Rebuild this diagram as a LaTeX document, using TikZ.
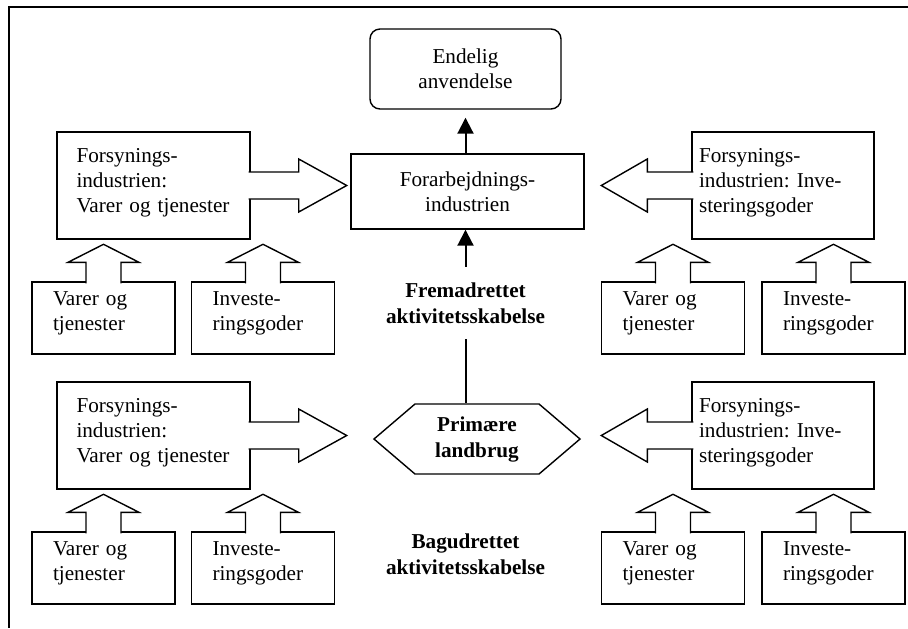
\documentclass[tikz,border=0pt]{standalone}
\usepackage{fontspec}
\setmainfont{Liberation Serif}
\usetikzlibrary{arrows.meta,shapes.symbols}

\begin{document}
\begin{tikzpicture}[x=0.5pt,y=-0.5pt,line width=0.7pt,
	font=\fontsize{10.6}{12.5}\selectfont\frenchspacing,
	bigbox/.style={draw,align=left,inner ysep=0pt,text height=15pt,text depth=38.5pt},
	smallbox/.style={draw,align=left,inner xsep=10.5pt,inner ysep=0pt,text width=50.5pt,text height=11.5pt,text depth=24.5pt},
	boldtext/.style={align=center,font=\fontsize{10.6}{13}\selectfont\bfseries},
	blk/.style={draw,fill=white,line join=miter},
	arr/.style={line width=1pt,-{Triangle[length=8pt,width=8pt]}}]
			\useasboundingbox (0,0) rectangle (908,628);
			\draw (908,7) -- (9,7) -- (9,628);
			% midten
			\node[draw,rounded corners=5pt,minimum width=95.5pt,minimum height=40pt,align=center] (0) at (465.5,69) {Endelig\\anvendelse};
			\node[draw,minimum width=116.5pt,minimum height=37.5pt,align=center] (1) at (467.5,191.5) {Forarbejdnings-\\industrien};
			\node[boldtext,inner ysep=7.65pt] (2) at (465.5,303) {Fremadrettet\\aktivitetsskabelse};
			\node[draw,boldtext,signal,signal to=west and east,signal pointer angle=81,minimum width=103pt,minimum height=35pt] (3) at (477,439) {Primære\\landbrug};
			\node[boldtext] (4) at (465.5,554) {Bagudrettet\\aktivitetsskabelse};
			\draw[arr] (1.north -| 0.south) -- ([yshift=-4pt]0.south);
			\draw[arr] (2.north) -- (2.north |- 1.south);
			\draw[line width=1pt] (2.south) -- (2.south |- 3.north);
			% venstre
			\node[bigbox,inner xsep=9.75pt,text width=77pt] (5) at (153.5,185.5) {Forsynings-\\industrien:\\Varer og tjenester};
			\node[smallbox] (6) at (103.5,318) {Varer og\\tjenester};
			\node[smallbox] (7) at (263,318) {Investe-\\ringsgoder};
			\node[bigbox,inner xsep=9.75pt,text width=77pt] (11) at (153.5,435.5) {Forsynings-\\industrien:\\Varer og tjenester};
			\node[smallbox] (12) at (103.5,568) {Varer og\\tjenester};
			\node[smallbox] (13) at (263,568) {Investe-\\ringsgoder};
			% hoejre
			\node[bigbox,inner xsep=3.5pt,text width=84pt] (8) at (783,185.5) {Forsynings-\\industrien: Inve-\\steringsgoder};
			\node[smallbox] (9) at (673,318) {Varer og\\tjenester};
			\node[smallbox] (10) at (833.5,318) {Investe-\\ringsgoder};
			\node[bigbox,inner xsep=3.5pt,text width=84pt] (14) at (783,435.5) {Forsynings-\\industrien: Inve-\\steringsgoder};
			\node[smallbox] (15) at (673,568) {Varer og\\tjenester};
			\node[smallbox] (16) at (833.5,568) {Investe-\\ringsgoder};
			% blokpile
			\draw[blk] ([xshift=-1pt]5.east) ++(0,-13.5) -- ++(50,0) -- ++(0,-13) -- ++(48,26.5) -- ++(-48,26.5) -- ++(0,-13) -- ++(-50,0);
			\draw[blk] ([xshift=-1pt]11.east) ++(0,-13.5) -- ++(50,0) -- ++(0,-13) -- ++(48,26.5) -- ++(-48,26.5) -- ++(0,-13) -- ++(-50,0);
			\draw[blk] ([xshift=1pt]8.west) ++(0,-13.5) -- ++(-46,0) -- ++(0,-13) -- ++(-46,26.5) -- ++(46,26.5) -- ++(0,-13) -- ++(46,0);
			\draw[blk] ([xshift=1pt]14.west) ++(0,-13.5) -- ++(-46,0) -- ++(0,-13) -- ++(-46,26.5) -- ++(46,26.5) -- ++(0,-13) -- ++(46,0);
			\foreach \n in {6,7,9,10,12,13,15,16}
				\draw[blk] ([yshift=-1pt]\n.north) ++(-17.5,0) -- ++(0,-21) -- ++(-18,0) -- ++(35.5,-18) -- ++(35.5,18) -- ++(-18,0) -- ++(0,21);
\end{tikzpicture}
\end{document}
